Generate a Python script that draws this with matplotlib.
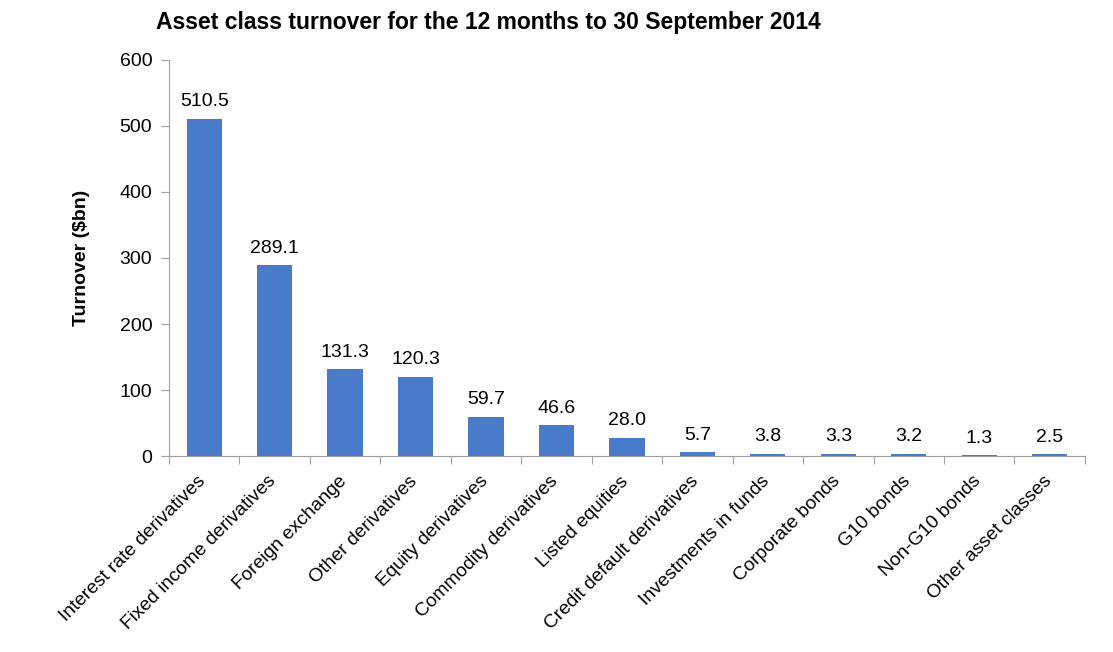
import matplotlib.pyplot as plt
from matplotlib.transforms import ScaledTranslation

plt.rcParams['font.family'] = ['Liberation Sans', 'DejaVu Sans']

categories = ['Interest rate derivatives', 'Fixed income derivatives', 'Foreign exchange',
              'Other derivatives', 'Equity derivatives', 'Commodity derivatives',
              'Listed equities', 'Credit default derivatives', 'Investments in funds',
              'Corporate bonds', 'G10 bonds', 'Non-G10 bonds', 'Other asset classes']
turnover = [510.5, 289.1, 131.3, 120.3, 59.7, 46.6, 28.0, 5.7, 3.8, 3.3, 3.2, 1.3, 2.5]

fig = plt.figure(figsize=(11.13, 6.52), dpi=100)
ax = fig.add_axes([0.1518, 0.3006, 0.823, 0.6074])

x = range(len(categories))
bars = ax.bar(x, turnover, width=0.5, color='#4a7bc8')
for b, v in zip(bars, turnover):
    ax.text(b.get_x() + b.get_width() / 2, v + 13, f'{v:.1f}', ha='center', va='bottom', fontsize=14)

ax.set_xlim(-0.5, len(categories) - 0.5)
ax.set_ylim(0, 600)
ax.set_yticks(range(0, 601, 100))
ax.tick_params(axis='y', direction='out', length=6, color='#a0a0a0', labelsize=14, pad=6)

# ticks between categories, labels at the centres
ax.set_xticks([i - 0.5 for i in range(len(categories) + 1)])
ax.set_xticklabels([])
ax.set_xticks(list(x), minor=True)
ax.set_xticklabels(categories, minor=True, rotation=45, ha='right', rotation_mode='anchor', fontsize=13.8)
ax.tick_params(axis='x', which='major', direction='out', length=6, color='#a0a0a0')
ax.tick_params(axis='x', which='minor', length=0, pad=12)
shift = ScaledTranslation(-7 / 100, 0, fig.dpi_scale_trans)
for lbl in ax.get_xticklabels(minor=True):
    lbl.set_transform(lbl.get_transform() + shift)

for s in ['top', 'right']:
    ax.spines[s].set_visible(False)
for s in ['left', 'bottom']:
    ax.spines[s].set_color('#a0a0a0')

ax.set_ylabel('Turnover ($bn)', fontsize=14, fontweight='bold', labelpad=21)
fig.text(0.439, 0.965, 'Asset class turnover for the 12 months to 30 September 2014',
         ha='center', va='center', fontsize=16.5, fontweight='bold')

fig.savefig('out.png', dpi=100)
